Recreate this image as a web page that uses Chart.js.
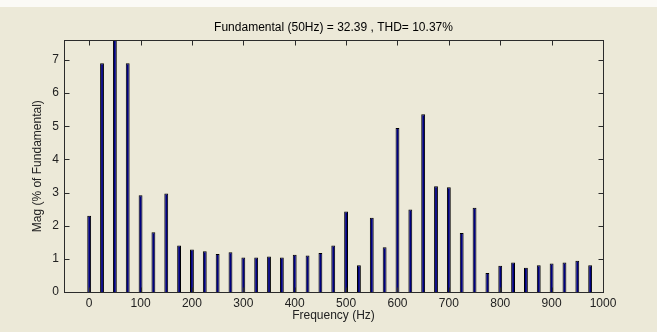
<!DOCTYPE html>
<html>
<head>
<meta charset="utf-8">
<script src="https://cdn.jsdelivr.net/npm/chart.js@4.4.1/dist/chart.umd.min.js"></script>
<style>
  html, body { margin: 0; padding: 0; background: #ece9d8; }
  #wrap { width: 657px; height: 332px; background: linear-gradient(#fbfaf6 0, #fbfaf6 7px, #ece9d8 7px); }
  canvas { display: block; }
</style>
</head>
<body>
<div id="wrap"><canvas id="fftChart" width="657" height="332"></canvas></div>
<script>
// harmonic spectrum, 25 Hz steps (50 Hz fundamental = 100%, clipped by the axis)
const freqs = [0, 25, 50, 75, 100, 125, 150, 175, 200, 225, 250, 275, 300, 325, 350, 375,
  400, 425, 450, 475, 500, 525, 550, 575, 600, 625, 650, 675, 700, 725, 750, 775,
  800, 825, 850, 875, 900, 925, 950, 975];
const mags = [2.30, 6.90, 100, 6.90, 2.92, 1.80, 2.97, 1.40, 1.28, 1.23, 1.15, 1.20, 1.04, 1.04, 1.07, 1.04,
  1.12, 1.10, 1.18, 1.40, 2.43, 0.81, 2.24, 1.35, 4.95, 2.49, 5.36, 3.19, 3.16, 1.78, 2.54, 0.57,
  0.79, 0.89, 0.73, 0.81, 0.86, 0.89, 0.94, 0.81];
const xTicks = [0, 100, 200, 300, 400, 500, 600, 700, 800, 900, 1000];
const yTicks = [0, 1, 2, 3, 4, 5, 6, 7];

const titleText = 'Fundamental (50Hz) = 32.39 , THD= 10.37%';
const FONT = "'Liberation Sans', Arial, sans-serif";

// box around the axes + inward tick marks on all four sides (matlab look)
const frame = {
  id: 'frame',
  afterDatasetsDraw(chart) {
    const { ctx, chartArea: a, scales } = chart;
    const L = Math.round(a.left) + 0.5, R = Math.round(a.right) + 0.5;
    const T = Math.round(a.top) + 0.5, B = Math.round(a.bottom) + 0.5;
    ctx.save();
    ctx.strokeStyle = '#2b2b2b';
    ctx.lineWidth = 1;
    ctx.beginPath();
    xTicks.forEach(v => {
      const x = Math.round(scales.x.getPixelForValue(v)) + 0.5;
      ctx.moveTo(x, T); ctx.lineTo(x, T + 5);
      ctx.moveTo(x, B); ctx.lineTo(x, B - 5);
    });
    yTicks.forEach(v => {
      const y = Math.round(scales.y.getPixelForValue(v)) + 0.5;
      ctx.moveTo(L, y); ctx.lineTo(L + 5, y);
      ctx.moveTo(R, y); ctx.lineTo(R - 5, y);
    });
    ctx.stroke();
    ctx.strokeRect(L, T, R - L, B - T);
    ctx.restore();
  }
};

const ctx = document.getElementById('fftChart').getContext('2d');
new Chart(ctx, {
  type: 'bar',
  data: {
    datasets: [{
      data: freqs.map((f, i) => ({ x: f, y: mags[i] })),
      backgroundColor: '#000080',
      borderColor: '#000000',
      borderWidth: 1,
      borderSkipped: 'bottom',
      barPercentage: 0.3,
      categoryPercentage: 1,
      clip: 0
    }]
  },
  options: {
    responsive: false,
    animation: false,
    layout: { padding: { left: 0, right: 54, top: 0, bottom: 0 } },
    plugins: {
      legend: { display: false },
      tooltip: { enabled: false },
      title: {
        display: true,
        fullSize: false,
        text: titleText,
        color: '#000',
        font: { family: FONT, size: 12, weight: 'normal' },
        padding: { top: 20, bottom: 6 }
      }
    },
    scales: {
      x: {
        type: 'linear',
        offset: false,
        min: -49,
        max: 1000,
        grid: { display: false, drawTicks: false, offset: false },
        border: { display: false },
        afterBuildTicks: s => { s.ticks = xTicks.map(v => ({ value: v })); },
        afterFit: s => { s.height = 40; },
        ticks: {
          color: '#222', font: { family: FONT, size: 12 }, padding: 4, maxRotation: 0,
          callback: v => String(v)
        },
        title: {
          display: true,
          text: 'Frequency (Hz)',
          color: '#222',
          font: { family: FONT, size: 12 },
          padding: { top: 0, bottom: 9 }
        }
      },
      y: {
        min: 0,
        max: 7.59,
        grid: { display: false, drawTicks: false },
        border: { display: false },
        afterBuildTicks: s => { s.ticks = yTicks.map(v => ({ value: v })); },
        afterFit: s => { s.width = 64; },
        ticks: { color: '#222', font: { family: FONT, size: 12 }, padding: 5 },
        title: {
          display: true,
          text: 'Mag (% of Fundamental)',
          color: '#222',
          font: { family: FONT, size: 12 },
          padding: { top: 30, bottom: 0 }
        }
      }
    }
  },
  plugins: [frame]
});
</script>
</body>
</html>
